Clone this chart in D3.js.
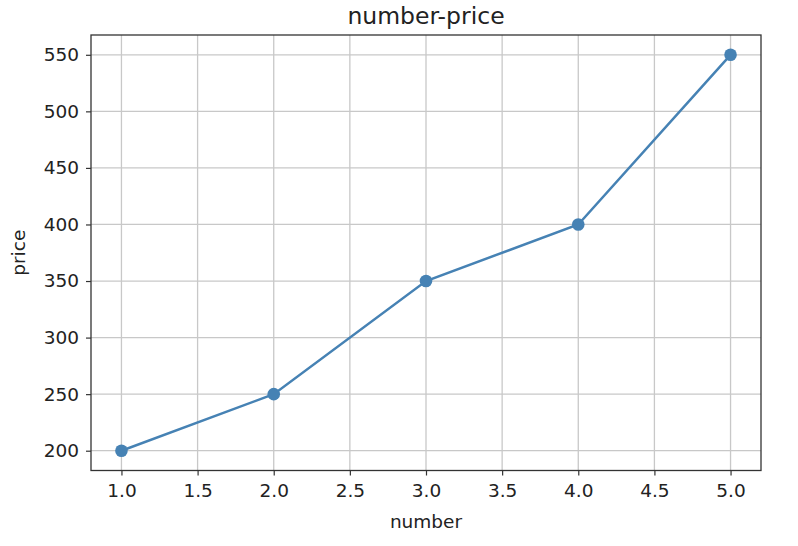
<!DOCTYPE html>
<html><head><meta charset="utf-8">
<script src="https://cdn.jsdelivr.net/npm/d3@7"></script>
<style>body{margin:0;background:#fff}svg{display:block}text{font-family:"DejaVu Sans",sans-serif;fill:#222}</style>
</head><body><svg id="c" width="798" height="546"></svg>
<script>
const numbers = [1, 2, 3, 4, 5];
const prices = [200, 250, 350, 400, 550];
const xTicks = [1.0, 1.5, 2.0, 2.5, 3.0, 3.5, 4.0, 4.5, 5.0];
const yTicks = [200, 250, 300, 350, 400, 450, 500, 550];
const title = "number-price";
const xLabel = "number";
const yLabel = "price";

const svg = d3.select("#c");
const m = {l: 91, r: 761, t: 35, b: 470.5};
const x = d3.scaleLinear().domain([0.8, 5.2]).range([m.l, m.r]);
const y = d3.scaleLinear().domain([182.5, 567.5]).range([m.b, m.t]);

const g = svg.append("g");
g.selectAll(".gx").data(xTicks).enter().append("line")
  .attr("x1", d => x(d)).attr("x2", d => x(d)).attr("y1", m.t).attr("y2", m.b)
  .attr("stroke", "#c8c8c8").attr("stroke-width", 1.3);
g.selectAll(".gy").data(yTicks).enter().append("line")
  .attr("y1", d => y(d)).attr("y2", d => y(d)).attr("x1", m.l).attr("x2", m.r)
  .attr("stroke", "#c8c8c8").attr("stroke-width", 1.3);

const xa = svg.append("g").attr("transform", `translate(0,${m.b})`)
  .call(d3.axisBottom(x).tickValues(xTicks).tickFormat(d3.format(".1f")).tickSize(5).tickPadding(8));
const ya = svg.append("g").attr("transform", `translate(${m.l},0)`)
  .call(d3.axisLeft(y).tickValues(yTicks).tickSize(5).tickPadding(7));
[xa, ya].forEach(a => {
  a.select(".domain").remove();
  a.selectAll("line").attr("stroke", "#333").attr("stroke-width", 1.2);
  a.selectAll("text").style("font-size", "18.5px").attr("fill", "#222");
});

svg.append("rect").attr("x", m.l).attr("y", m.t).attr("width", m.r - m.l).attr("height", m.b - m.t)
  .attr("fill", "none").attr("stroke", "#333").attr("stroke-width", 1.3);

const data = numbers.map((n, i) => ({n, p: prices[i]}));
svg.append("path").datum(data)
  .attr("d", d3.line().x(d => x(d.n)).y(d => y(d.p)))
  .attr("fill", "none").attr("stroke", "#4682b4").attr("stroke-width", 2.5);
svg.selectAll(".pt").data(data).enter().append("circle")
  .attr("cx", d => x(d.n)).attr("cy", d => y(d.p)).attr("r", 6.3).attr("fill", "#4682b4");

svg.append("text").attr("x", (m.l + m.r) / 2).attr("y", 24).attr("text-anchor", "middle")
  .style("font-size", "23.5px").text(title);
svg.append("text").attr("x", (m.l + m.r) / 2).attr("y", 528).attr("text-anchor", "middle")
  .style("font-size", "18.5px").text(xLabel);
svg.append("text").attr("transform", `translate(25,${(m.t + m.b) / 2}) rotate(-90)`).attr("text-anchor", "middle")
  .style("font-size", "18.5px").text(yLabel);
</script></body></html>
